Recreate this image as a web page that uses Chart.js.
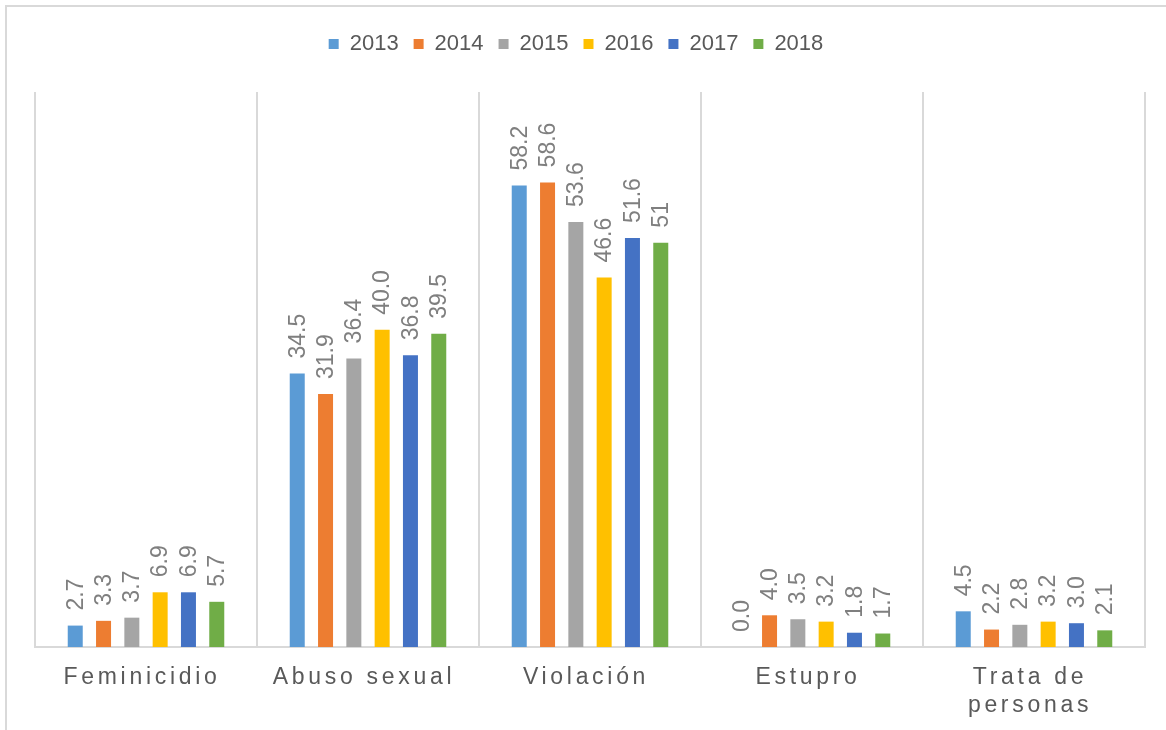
<!DOCTYPE html>
<html lang="es">

<head>
    <meta charset="UTF-8">
    <title>Delitos por año</title>
    <script src="https://cdnjs.cloudflare.com/ajax/libs/Chart.js/4.4.1/chart.umd.min.js"></script>
    <style>
        html, body {
            margin: 0;
            padding: 0;
            background: #ffffff;
            overflow: hidden;
        }

        .frame {
            position: absolute;
            left: 5px;
            top: 5px;
            width: 1300px;
            height: 900px;
            border-left: 2px solid #d9d9d9;
            border-top: 2px solid #d9d9d9;
        }

        #chart {
            position: absolute;
            left: 0;
            top: 0;
        }
    </style>
</head>

<body>
    <div class="frame"></div>
    <canvas id="chart" width="1166" height="730"></canvas>

    <script>
        // Values
        const categories = ['Feminicidio', 'Abuso sexual', 'Violación', 'Estupro', ['Trata de', 'personas']];
        const years = ['2013', '2014', '2015', '2016', '2017', '2018'];

        const values2013 = [2.7, 34.5, 58.2, 0.0, 4.5];
        const values2014 = [3.3, 31.9, 58.6, 4.0, 2.2];
        const values2015 = [3.7, 36.4, 53.6, 3.5, 2.8];
        const values2016 = [6.9, 40.0, 46.6, 3.2, 3.2];
        const values2017 = [6.9, 36.8, 51.6, 1.8, 3.0];
        const values2018 = [5.7, 39.5, 51, 1.7, 2.1];

        // label text as printed on the chart (one value has no decimal)
        const labels2013 = ['2.7', '34.5', '58.2', '0.0', '4.5'];
        const labels2014 = ['3.3', '31.9', '58.6', '4.0', '2.2'];
        const labels2015 = ['3.7', '36.4', '53.6', '3.5', '2.8'];
        const labels2016 = ['6.9', '40.0', '46.6', '3.2', '3.2'];
        const labels2017 = ['6.9', '36.8', '51.6', '1.8', '3.0'];
        const labels2018 = ['5.7', '39.5', '51', '1.7', '2.1'];

        const colors = ['#5b9bd5', '#ed7d31', '#a5a5a5', '#ffc000', '#4472c4', '#70ad47'];

        const FONT = '"Liberation Sans", Arial, sans-serif';
        const seriesValues = [values2013, values2014, values2015, values2016, values2017, values2018];
        const seriesLabels = [labels2013, labels2014, labels2015, labels2016, labels2017, labels2018];

        // rotated value labels above every bar
        const valueLabels = {
            id: 'valueLabels',
            afterDatasetsDraw(chart) {
                const ctx = chart.ctx;
                ctx.save();
                ctx.font = '23px ' + FONT;
                ctx.fillStyle = '#7f7f7f';
                ctx.textAlign = 'left';
                ctx.textBaseline = 'middle';
                chart.data.datasets.forEach((ds, di) => {
                    chart.getDatasetMeta(di).data.forEach((bar, i) => {
                        ctx.save();
                        ctx.translate(bar.x + 1, bar.y - 15);
                        ctx.rotate(-Math.PI / 2);
                        ctx.fillText(seriesLabels[di][i], 0, 0);
                        ctx.restore();
                    });
                });
                ctx.restore();
            }
        };

        // spaced category names under the axis
        const categoryLabels = {
            id: 'categoryLabels',
            afterDraw(chart) {
                const ctx = chart.ctx;
                const xs = chart.scales.x;
                ctx.save();
                ctx.font = '23px ' + FONT;
                ctx.fillStyle = '#595959';
                ctx.textAlign = 'center';
                ctx.textBaseline = 'alphabetic';
                ctx.letterSpacing = '3.7px';
                categories.forEach((cat, i) => {
                    const lines = Array.isArray(cat) ? cat : [cat];
                    const x = xs.getPixelForValue(i) - 4;
                    lines.forEach((line, j) => {
                        ctx.fillText(line, x, xs.bottom + 37 + j * 28);
                    });
                });
                ctx.restore();
            }
        };

        // extra room between legend and plot
        const legendGap = {
            id: 'legendGap',
            beforeInit(chart) {
                const fit = chart.legend.fit;
                chart.legend.fit = function () {
                    fit.call(this);
                    this.height += 27;
                };
            }
        };

        new Chart(document.getElementById('chart'), {
            type: 'bar',
            data: {
                labels: categories,
                datasets: years.map((y, i) => ({
                    label: y,
                    data: seriesValues[i],
                    backgroundColor: colors[i],
                    categoryPercentage: 0.765,
                    barPercentage: 0.53
                }))
            },
            options: {
                responsive: false,
                animation: false,
                layout: {
                    padding: { left: 7, right: 21, top: 18, bottom: 83 }
                },
                scales: {
                    x: {
                        grid: {
                            color: '#d9d9d9',
                            lineWidth: 2,
                            drawTicks: false,
                            offset: true
                        },
                        border: { display: true, color: '#d9d9d9', width: 2 },
                        ticks: { display: false }
                    },
                    y: {
                        min: 0,
                        max: 70,
                        grid: { display: false },
                        border: { display: false },
                        ticks: { display: false },
                        afterFit(scale) {
                            scale.width = 28;
                        }
                    }
                },
                plugins: {
                    legend: {
                        position: 'top',
                        labels: {
                            boxWidth: 10,
                            boxHeight: 10,
                            padding: 15,
                            color: '#595959',
                            font: { family: FONT, size: 22 }
                        }
                    },
                    tooltip: { enabled: false }
                }
            },
            plugins: [valueLabels, categoryLabels, legendGap]
        });
    </script>
</body>

</html>
